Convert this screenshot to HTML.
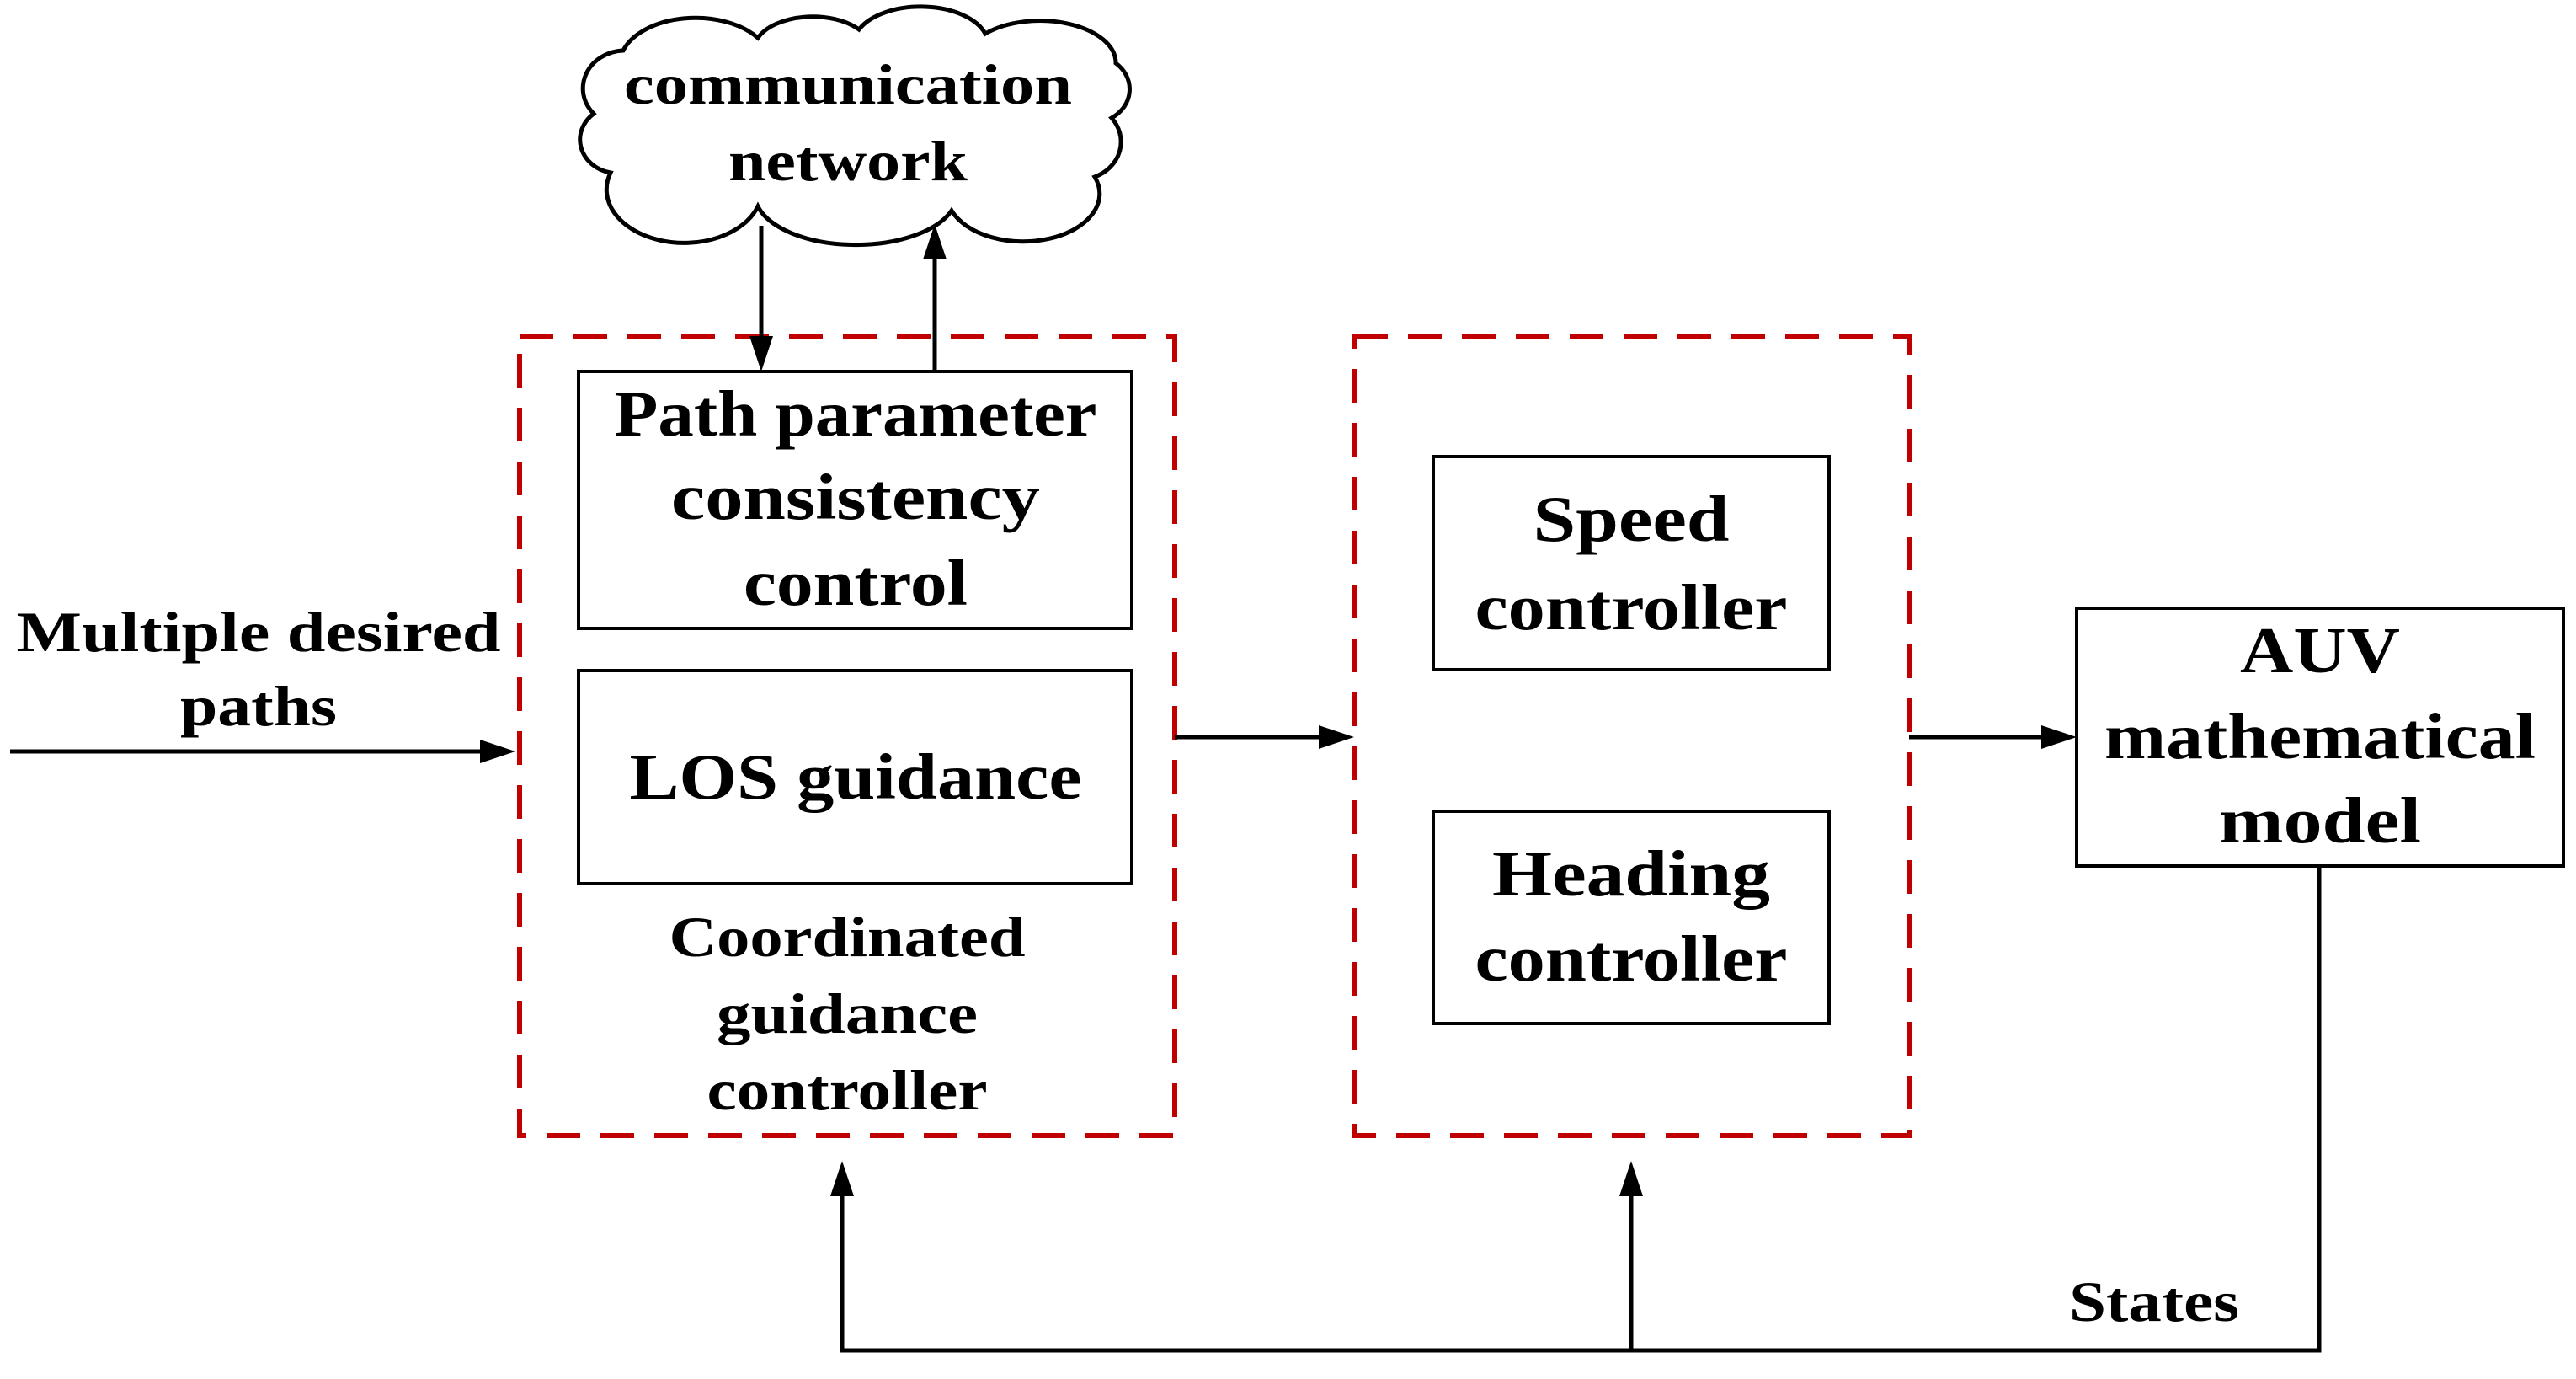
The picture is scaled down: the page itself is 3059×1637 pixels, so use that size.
<!DOCTYPE html>
<html><head><meta charset="utf-8"><style>
html,body{margin:0;padding:0;background:#fff;}
svg{display:block;}
text{font-family:"Liberation Serif",serif;font-weight:bold;fill:#000;}
</style></head><body>
<svg width="3059" height="1637" viewBox="0 0 3059 1637" xmlns="http://www.w3.org/2000/svg">
<!-- cloud -->
<path d="M705,135 A50,45 0 0 1 740,60 A90,55 0 0 1 900,45 A70,40 0 0 1 1020,35 A80,45 0 0 1 1170,40 A90,50 0 0 1 1325,75 A45,40 0 0 1 1320,140 A50,45 0 0 1 1300,210 A80,50 0 0 1 1130,250 A120,60 0 0 1 900,245 A80,55 0 0 1 725,205 A45,40 0 0 1 705,135 Z" fill="#fff" stroke="#000" stroke-width="5"/>
<text x="1007" y="123" font-size="68" text-anchor="middle" textLength="532" lengthAdjust="spacingAndGlyphs">communication</text>
<text x="1007" y="214" font-size="68" text-anchor="middle" textLength="284" lengthAdjust="spacingAndGlyphs">network</text>

<!-- red dashed boxes -->
<rect x="617" y="400" width="778" height="948" fill="none" stroke="#c00000" stroke-width="6" stroke-dasharray="40,24"/>
<rect x="1608" y="400" width="659" height="948" fill="none" stroke="#c00000" stroke-width="6" stroke-dasharray="40,24"/>

<!-- inner boxes -->
<rect x="687" y="441" width="657" height="305" fill="#fff" stroke="#000" stroke-width="4"/>
<rect x="687" y="796" width="657" height="253" fill="#fff" stroke="#000" stroke-width="4"/>
<rect x="1702" y="542" width="470" height="253" fill="#fff" stroke="#000" stroke-width="4"/>
<rect x="1702" y="963" width="470" height="252" fill="#fff" stroke="#000" stroke-width="4"/>
<rect x="2466" y="722" width="578" height="306" fill="#fff" stroke="#000" stroke-width="4"/>

<!-- texts -->
<text x="1016" y="517" font-size="77" text-anchor="middle" textLength="573" lengthAdjust="spacingAndGlyphs">Path parameter</text>
<text x="1016" y="616" font-size="77" text-anchor="middle" textLength="438" lengthAdjust="spacingAndGlyphs">consistency</text>
<text x="1016" y="718" font-size="77" text-anchor="middle" textLength="266" lengthAdjust="spacingAndGlyphs">control</text>
<text x="1016" y="948" font-size="77" text-anchor="middle" textLength="537" lengthAdjust="spacingAndGlyphs">LOS guidance</text>
<text x="1006" y="1135" font-size="68" text-anchor="middle" textLength="423" lengthAdjust="spacingAndGlyphs">Coordinated</text>
<text x="1006" y="1226" font-size="68" text-anchor="middle" textLength="310" lengthAdjust="spacingAndGlyphs">guidance</text>
<text x="1006" y="1317" font-size="68" text-anchor="middle" textLength="333" lengthAdjust="spacingAndGlyphs">controller</text>
<text x="307" y="773" font-size="68" text-anchor="middle" textLength="575" lengthAdjust="spacingAndGlyphs">Multiple desired</text>
<text x="307" y="861" font-size="68" text-anchor="middle" textLength="186" lengthAdjust="spacingAndGlyphs">paths</text>
<text x="1937" y="642" font-size="77" text-anchor="middle" textLength="233" lengthAdjust="spacingAndGlyphs">Speed</text>
<text x="1937" y="747" font-size="77" text-anchor="middle" textLength="371" lengthAdjust="spacingAndGlyphs">controller</text>
<text x="1937" y="1063" font-size="77" text-anchor="middle" textLength="330" lengthAdjust="spacingAndGlyphs">Heading</text>
<text x="1937" y="1164" font-size="77" text-anchor="middle" textLength="371" lengthAdjust="spacingAndGlyphs">controller</text>
<text x="2755" y="798" font-size="77" text-anchor="middle" textLength="190" lengthAdjust="spacingAndGlyphs">AUV</text>
<text x="2755" y="900" font-size="77" text-anchor="middle" textLength="512" lengthAdjust="spacingAndGlyphs">mathematical</text>
<text x="2755" y="1000" font-size="77" text-anchor="middle" textLength="240" lengthAdjust="spacingAndGlyphs">model</text>
<text x="2558" y="1568" font-size="68" text-anchor="middle" textLength="202" lengthAdjust="spacingAndGlyphs">States</text>

<!-- connectors -->
<g stroke="#000" stroke-width="5" fill="none">
<line x1="12" y1="892" x2="580" y2="892"/>
<line x1="904" y1="268" x2="904" y2="404"/>
<line x1="1110" y1="441" x2="1110" y2="300"/>
<line x1="1395" y1="875" x2="1572" y2="875"/>
<line x1="2267" y1="875" x2="2430" y2="875"/>
<polyline points="2754,1028 2754,1603 1000,1603 1000,1415"/>
<line x1="1937" y1="1603" x2="1937" y2="1415"/>
</g>
<g fill="#000">
<polygon points="612,892 570,878 570,906"/>
<polygon points="904,441 890,399 918,399"/>
<polygon points="1110,266 1096,308 1124,308"/>
<polygon points="1608,875 1566,861 1566,889"/>
<polygon points="2466,875 2424,861 2424,889"/>
<polygon points="1000,1378 986,1420 1014,1420"/>
<polygon points="1937,1378 1923,1420 1951,1420"/>
</g>
</svg>
</body></html>
